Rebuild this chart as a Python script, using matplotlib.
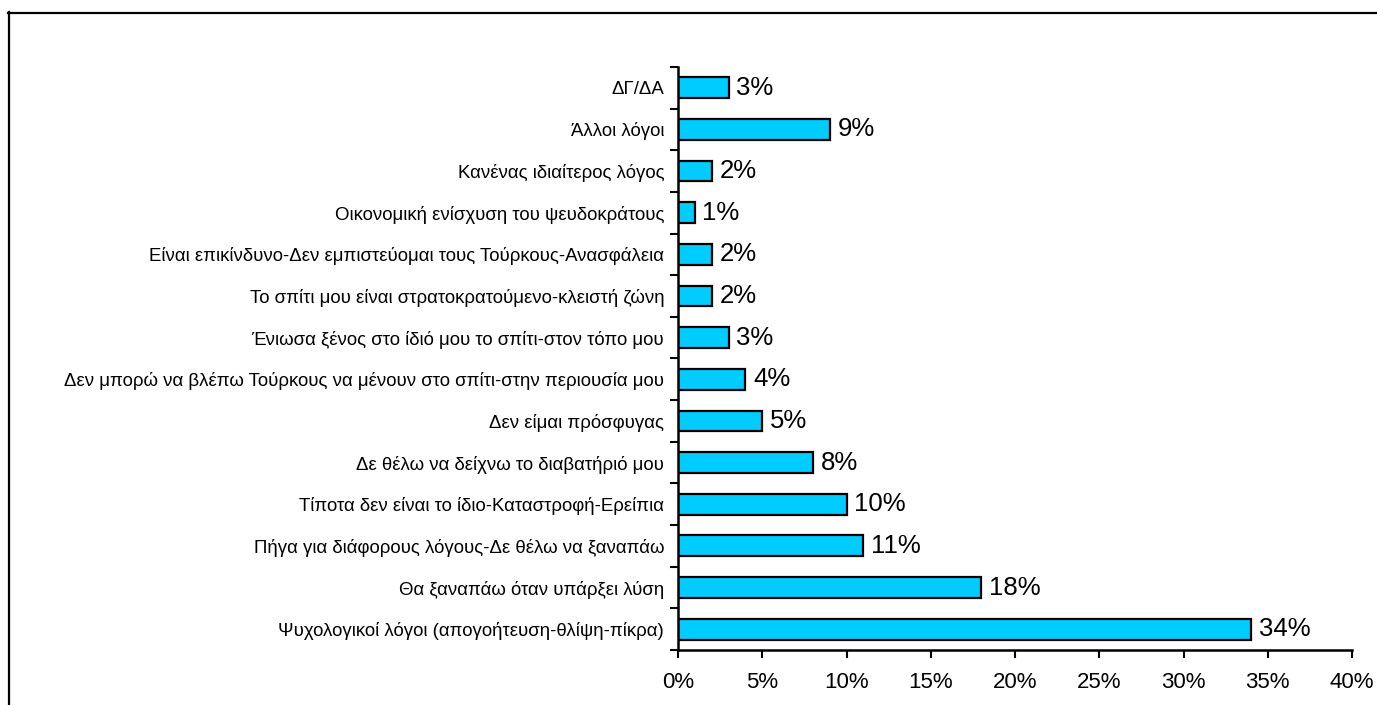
import matplotlib.pyplot as plt
from matplotlib.lines import Line2D
from matplotlib.ticker import FixedLocator, PercentFormatter

plt.rcParams['font.family'] = ['Liberation Sans', 'DejaVu Sans']

# reasons, listed top to bottom as in the chart
reasons = [
    'ΔΓ/ΔΑ',
    'Άλλοι λόγοι',
    'Κανένας ιδιαίτερος λόγος',
    'Οικονομική ενίσχυση του ψευδοκράτους',
    'Είναι επικίνδυνο-Δεν εμπιστεύομαι τους Τούρκους-Ανασφάλεια',
    'Το σπίτι μου είναι στρατοκρατούμενο-κλειστή ζώνη',
    'Ένιωσα ξένος στο ίδιό μου το σπίτι-στον τόπο μου',
    'Δεν μπορώ να βλέπω Τούρκους να μένουν στο σπίτι-στην περιουσία μου',
    'Δεν είμαι πρόσφυγας',
    'Δε θέλω να δείχνω το διαβατήριό μου',
    'Τίποτα δεν είναι το ίδιο-Καταστροφή-Ερείπια',
    'Πήγα για διάφορους λόγους-Δε θέλω να ξαναπάω',
    'Θα ξαναπάω όταν υπάρξει λύση',
    'Ψυχολογικοί λόγοι (απογοήτευση-θλίψη-πίκρα)',
]
percent = [3, 9, 2, 1, 2, 2, 3, 4, 5, 8, 10, 11, 18, 34]
x_ticks = [0, 5, 10, 15, 20, 25, 30, 35, 40]

fig = plt.figure(figsize=(13.77, 7.05), dpi=100)
ax = fig.add_axes([0.4924, 0.078, 0.4895, 0.827])

# bottom row first so the first reason ends up on top
n = len(reasons)
ypos = list(range(n))
vals = percent[::-1]
labels = reasons[::-1]

ax.barh(ypos, vals, height=0.5, color='#00CCFF', edgecolor='black', linewidth=1.6)

for y, v in zip(ypos, vals):
    ax.text(v + 0.45, y, '{}%'.format(v), va='center', ha='left', fontsize=18.5)

ax.set_xlim(0, 40)
ax.set_ylim(-0.5, n - 0.5)
ax.set_xticks(x_ticks)
ax.xaxis.set_major_formatter(PercentFormatter(decimals=0))
ax.set_yticks(ypos)
ax.set_yticklabels(labels, fontsize=13.4)
ax.yaxis.set_minor_locator(FixedLocator([i + 0.5 for i in range(-1, n)]))

ax.tick_params(axis='y', which='major', length=0, pad=10)
ax.tick_params(axis='y', which='minor', length=6, width=1.5, direction='out')
ax.tick_params(axis='x', length=6, width=1.5, direction='out', labelsize=16, pad=10)

for s in ['top', 'right']:
    ax.spines[s].set_visible(False)
for s in ['left', 'bottom']:
    ax.spines[s].set_linewidth(1.8)

# outer frame (top and left edges visible)
fig.add_artist(Line2D([8 / 1377, 1.0], [1 - 12.5 / 705, 1 - 12.5 / 705],
                      transform=fig.transFigure, color='black', linewidth=1.6))
fig.add_artist(Line2D([8.5 / 1377, 8.5 / 1377], [0, 1 - 12 / 705],
                      transform=fig.transFigure, color='black', linewidth=1.6))

fig.savefig('out.png', dpi=100)
